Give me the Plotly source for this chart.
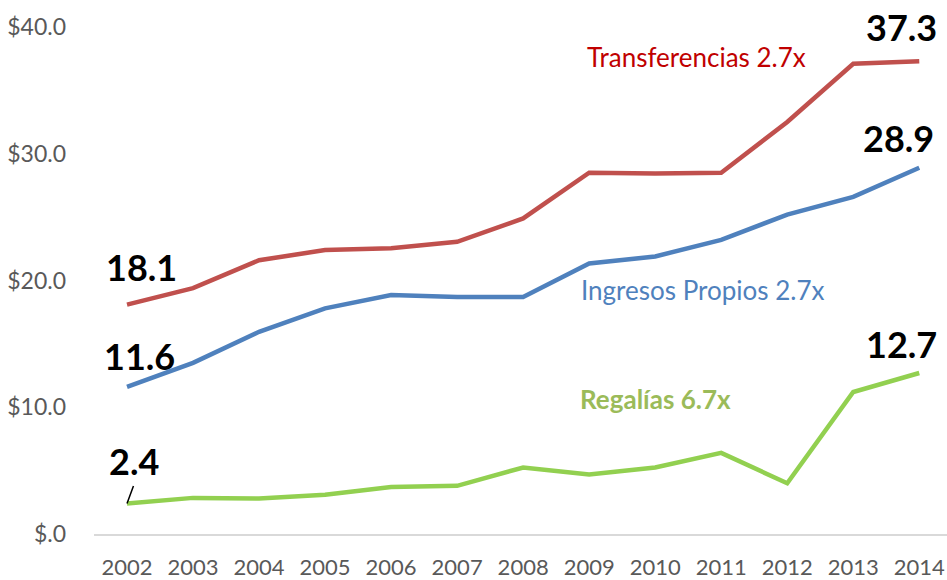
import plotly.graph_objects as go

years = ["2002","2003","2004","2005","2006","2007","2008","2009","2010","2011","2012","2013","2014"]
transferencias = [18.1, 19.4, 21.6, 22.4, 22.55, 23.05, 24.9, 28.5, 28.45, 28.5, 32.5, 37.1, 37.3]
ingresos = [11.6, 13.5, 15.95, 17.8, 18.85, 18.7, 18.7, 21.35, 21.9, 23.2, 25.2, 26.6, 28.9]
regalias = [2.4, 2.85, 2.8, 3.1, 3.7, 3.8, 5.25, 4.7, 5.25, 6.4, 4.0, 11.2, 12.7]

y_tickvals = [0, 10, 20, 30, 40]
y_ticktext = ["$.0", "$10.0", "$20.0", "$30.0", "$40.0"]

series = [
    ("Transferencias", transferencias, "#C0504D"),
    ("Ingresos Propios", ingresos, "#4F81BD"),
    ("Regalías", regalias, "#92D050"),
]

FONT = "Lato"
fig = go.Figure()
xi = list(range(len(years)))
for name, vals, col in series:
    fig.add_trace(go.Scatter(x=xi, y=vals, mode="lines", name=name,
                             line=dict(color=col, width=4.5), hoverinfo="skip"))

def lab(x, y, text, xs, ys):
    fig.add_annotation(x=x, y=y, xref="x", yref="y", text=f"<b>{text}</b>", showarrow=False,
                       xshift=xs, yshift=ys, font=dict(family=FONT, size=36, color="black"))

last = len(years) - 1
lab(0, transferencias[0], f"{transferencias[0]:.1f}", 14, 38)
lab(0, ingresos[0], f"{ingresos[0]:.1f}", 12, 31)
lab(0, regalias[0], f"{regalias[0]:.1f}", 7, 43)
lab(last, transferencias[last], f"{transferencias[last]:.1f}", -18, 34)
lab(last, ingresos[last], f"{ingresos[last]:.1f}", -21, 30)
lab(last, regalias[last], f"{regalias[last]:.1f}", -18, 29)

# leader line for 2.4
fig.add_annotation(x=0, y=regalias[0], xref="x", yref="y", text="", showarrow=True,
                   ax=7, ay=-19, arrowhead=0, arrowwidth=1.5, arrowcolor="black", standoff=0)

fig.add_annotation(x=8.62, y=37.6, xref="x", yref="y", text="Transferencias 2.7x", showarrow=False,
                   font=dict(family=FONT, size=26, color="#C00000"))
fig.add_annotation(x=8.72, y=19.25, xref="x", yref="y", text="Ingresos Propios 2.7x", showarrow=False,
                   font=dict(family=FONT, size=26, color="#4F81BD"))
fig.add_annotation(x=8.0, y=10.65, xref="x", yref="y", text="<b>Regalías 6.7x</b>", showarrow=False,
                   font=dict(family=FONT, size=26, color="#9BBB59"))

fig.update_layout(
    width=947, height=580,
    margin=dict(l=94, r=0, t=27, b=46),
    plot_bgcolor="white", paper_bgcolor="white",
    showlegend=False,
    font=dict(family=FONT, color="#595959", size=22),
    xaxis=dict(tickmode="array", tickvals=xi, ticktext=years, range=[-0.5, 12.42],
               showgrid=False, zeroline=False, showline=True, linecolor="#D9D9D9", linewidth=2,
               ticks="", ticklabelstandoff=13, automargin=False,
               tickfont=dict(size=22, color="#595959")),
    yaxis=dict(tickmode="array", tickvals=y_tickvals, ticktext=y_ticktext, range=[0, 40],
               showgrid=False, zeroline=False, showline=False, ticks="", automargin=False,
               ticklabelstandoff=27, tickfont=dict(size=23, color="#595959")),
)

fig.write_html("out.html", config={"displayModeBar": False},
               post_script="document.body.style.margin='0';document.body.style.overflow='hidden';")
